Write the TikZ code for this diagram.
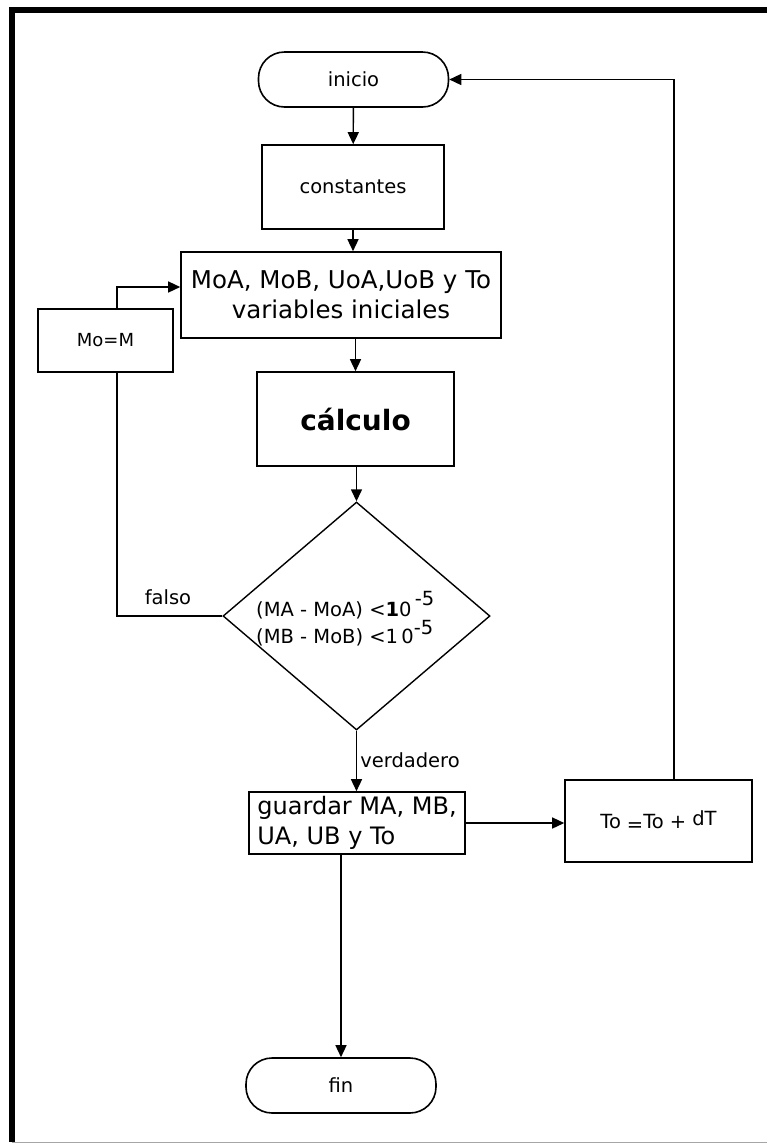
\documentclass[tikz,border=0pt]{standalone}
\usepackage{fontspec}
\setmainfont{DejaVu Sans}
\usetikzlibrary{arrows.meta, shapes.geometric}

\begin{document}
\begin{tikzpicture}
[x=1pt, y=-1pt,
caja/.style={rectangle, draw=black, line width=1.6pt, inner sep=0pt, font=\fontsize{19.5}{24}\selectfont},
term/.style={caja, rounded corners=26pt, minimum width=190pt, minimum height=55pt},
grande/.style={font=\fontsize{24.5}{30}\selectfont},
rombo/.style={diamond, draw=black, line width=1.4pt, inner sep=0pt, minimum width=267pt, minimum height=228pt},
texto/.style={inner sep=0pt, font=\fontsize{19.5}{26}\selectfont},
linea/.style={line width=1.4pt},
flecha/.style={linea, -{Triangle[length=12pt,width=11pt]}}]

\useasboundingbox (0,0) rectangle (767,1144);
\draw[line width=6pt] (767,9.5) -- (11.5,9.5) -- (11.5,1142);
\draw[black!35, line width=1pt] (11.5,1142) -- (767,1142);

\node[term] (inicio) at (353.5,79.5) {inicio};
\node[caja, minimum width=182pt, minimum height=84pt] (constantes) at (353,187) {constantes};
\node[caja, grande, align=center, minimum width=320pt, minimum height=86pt] (vars) at (341,295)
  {MoA, MoB, UoA,UoB y To\\variables iniciales};
\node[caja, font=\fontsize{18}{22}\selectfont, minimum width=135pt, minimum height=63pt] (MoM) at (105.5,340.5) {Mo=M};
\node[caja, font=\fontsize{28}{32}\selectfont\bfseries, minimum width=197pt, minimum height=94pt] (calculo) at (355.5,419) {cálculo};
\node[rombo] (cond) at (356.5,616) {};
\node[texto, align=left, anchor=west] (condtxt) at (256,619)
  {(MA - MoA) <\textbf{1}0\,\raisebox{.55em}{-5}\\(MB - MoB) <1\,0\raisebox{.5em}{-5}};
\node[texto] (falso) at (168,597) {falso};
\node[texto] (verdadero) at (410,760) {verdadero};
\node[caja, font=\fontsize{24}{30}\selectfont, align=left, minimum width=216pt, minimum height=62pt] (guardar) at (357,823)
  {guardar MA, MB,\\UA, UB y To};
\node[caja, minimum width=187pt, minimum height=82pt] (incr) at (658.5,821)
  {To\hspace{6pt}\raisebox{-3pt}{=}To +\hspace{6pt}\raisebox{3pt}{dT}};
\node[term] (fin) at (341,1085.5) {fin};

\coordinate (lazo) at ([xshift=11.5pt]MoM.south);
\coordinate (lazoarriba) at ([xshift=11.5pt]MoM.north);
\coordinate (retorno) at ([xshift=15.5pt]incr.north);

\draw[flecha] (inicio) -- (constantes);
\draw[flecha] (constantes.south) -- (constantes.south |- vars.north);
\draw[flecha] (calculo.north |- vars.south) -- (calculo.north);
\draw[flecha] (cond.north |- calculo.south) -- (cond.north);
\draw[linea] (cond.west) -| (lazo);
\draw[flecha] (lazoarriba) |- ([yshift=8pt]vars.west);
\draw[flecha] (cond.south) -- (cond.south |- guardar.north);
\draw[flecha] (guardar.east) -- (guardar.east -| incr.west);
\draw[flecha] (retorno) |- (inicio.east);
\draw[flecha] (guardar.south -| fin.north) -- (fin.north);
\end{tikzpicture}
\end{document}
